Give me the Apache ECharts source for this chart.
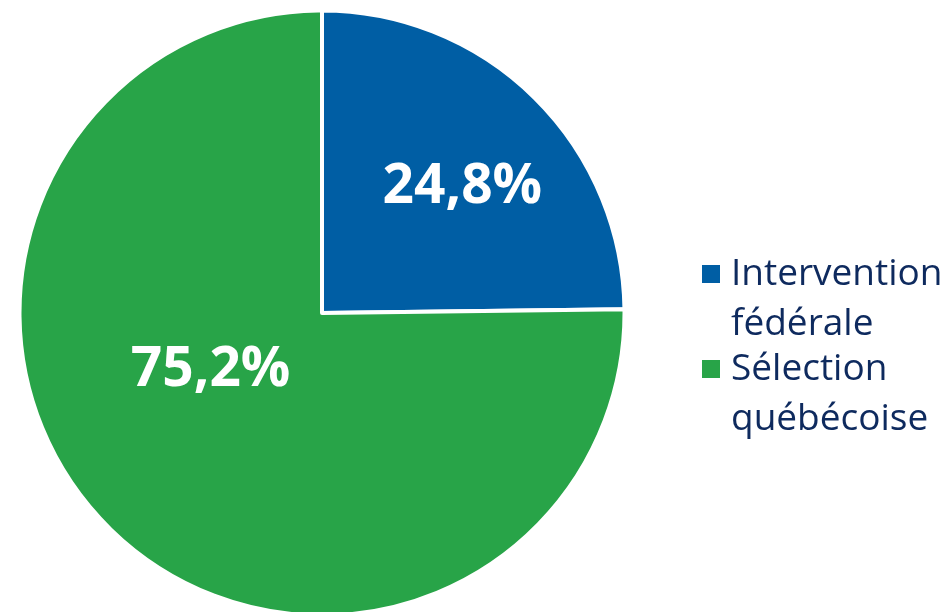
<!DOCTYPE html>
<html>
<head>
<meta charset="utf-8">
<script src="https://cdn.jsdelivr.net/npm/echarts@6/dist/echarts.min.js"></script>
<style>html,body{margin:0;padding:0;background:#fff}#c{width:950px;height:612px}</style>
</head>
<body>
<div id="c"></div>
<script>
const categories = ['Intervention\nfédérale', 'Sélection\nquébécoise'];
const values = [24.8, 75.2];
const colors = ['#005EA4', '#28A448'];
const labelOffsets = [[32, -16], [-3, -52]];

const chart = echarts.init(document.getElementById('c'), null, {renderer: 'canvas'});
chart.setOption({
  animation: false,
  backgroundColor: '#ffffff',
  legend: {
    orient: 'vertical',
    left: 695,
    top: 244,
    itemWidth: 20,
    itemHeight: 70,
    itemGap: -5,
    icon: 'path://M0,0L20,0L20,20L0,20Z M0,70',
    textStyle: {
      fontFamily: 'Open Sans',
      fontSize: 37,
      color: '#0E2A5E',
      lineHeight: 50,
      padding: [0, 0, 0, 5]
    },
    data: categories
  },
  series: [{
    type: 'pie',
    center: [322, 313],
    radius: [0, 302.5],
    startAngle: 90,
    clockwise: true,
    itemStyle: {borderColor: '#ffffff', borderWidth: 4},
    label: {
      show: true,
      position: 'inside',
      color: '#ffffff',
      fontFamily: 'Open Sans',
      fontWeight: 'bold',
      fontSize: 55,
      formatter: p => String(p.value).replace('.', ',') + '%'
    },
    labelLine: {show: false},
    emphasis: {disabled: true},
    data: categories.map((n, i) => ({
      name: n,
      value: values[i],
      itemStyle: {color: colors[i]},
      label: {offset: labelOffsets[i]}
    }))
  }]
});
</script>
</body>
</html>
